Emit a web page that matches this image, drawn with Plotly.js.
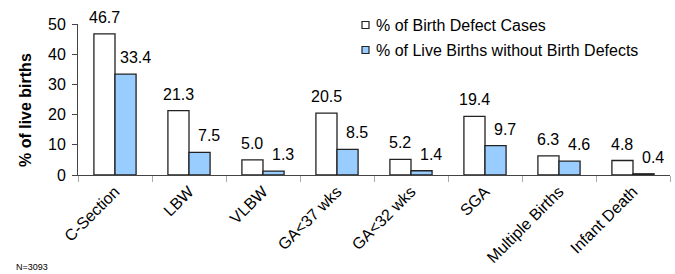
<!DOCTYPE html>
<html>
<head>
<meta charset="utf-8">
<script src="https://cdn.plot.ly/plotly-3.0.1.min.js"></script>
<style>html,body{margin:0;padding:0;background:#fff;}#chart{width:675px;height:274px;}</style>
</head>
<body>
<div id="chart"></div>
<script>
var categories = ["C-Section", "LBW", "VLBW", "GA<37 wks", "GA<32 wks", "SGA", "Multiple Births", "Infant Death"];
var defectCases = [46.7, 21.3, 5.0, 20.5, 5.2, 19.4, 6.3, 4.8];
var liveBirthsNoDefect = [33.4, 7.5, 1.3, 8.5, 1.4, 9.7, 4.6, 0.4];
var seriesNames = ["% of Birth Defect Cases", "% of Live Births without Birth Defects"];
var seriesColors = ["#FFFFFF", "#99CCFF"];
var yTitle = "% of live births";

var font = "Liberation Sans, Arial, sans-serif";
function mk(vals, name, color) {
  return {
    type: "bar", x: categories, y: vals, name: name, showlegend: false,
    marker: {color: color, line: {color: "#222", width: 1.3}},
    hoverinfo: "x+y"
  };
}
var data = [mk(defectCases, seriesNames[0], seriesColors[0]), mk(liveBirthsNoDefect, seriesNames[1], seriesColors[1])];

var plotL = 78, plotT = 24, plotW = 592, plotH = 151;
function px2x(p){ return (p - plotL) / plotW; }
function py2y(p){ return 1 - (p - plotT) / plotH; }
var shapes = [], annotations = [];

// value labels, anchored to each bar's value on the data axes
[defectCases, liveBirthsNoDefect].forEach(function(vals, s){
  vals.forEach(function(v, i){
    annotations.push({text: v.toFixed(1), xref: "x", yref: "y", x: categories[i], y: v,
      xanchor: "center", yanchor: "bottom", xshift: s === 0 ? -11 : 20, yshift: 6,
      showarrow: false, font: {family: font, size: 16, color: "#000"}});
  });
});

// custom legend (small squares + text)
seriesNames.forEach(function(n, i){
  var cy = 25 + i * 25;
  shapes.push({type: "rect", xref: "paper", yref: "paper",
    x0: px2x(362), x1: px2x(369), y0: py2y(cy + 3.5), y1: py2y(cy - 3.5),
    fillcolor: seriesColors[i], line: {color: "#222", width: 1.2}});
  annotations.push({text: n, xref: "paper", yref: "paper", x: px2x(374), y: py2y(cy),
    xanchor: "left", yanchor: "middle", showarrow: false,
    font: {family: font, size: 16, color: "#000"}});
});
// y-axis title
annotations.push({text: "<b>" + yTitle + "</b>", xref: "paper", yref: "paper", x: px2x(25), y: py2y(110),
  xanchor: "center", yanchor: "middle", textangle: -90, showarrow: false,
  font: {family: font, size: 16, color: "#000"}});
annotations.push({text: "N=3093", xref: "paper", yref: "paper", x: px2x(14), y: py2y(274),
  xanchor: "left", yanchor: "bottom", showarrow: false, font: {family: font, size: 9, color: "#000"}});

var layout = {
  width: 675, height: 274,
  margin: {l: 78, r: 5, t: 24, b: 99},
  paper_bgcolor: "#fff", plot_bgcolor: "#fff",
  barmode: "group", bargap: 0.43, bargroupgap: 0,
  font: {family: font, size: 16, color: "#000"},
  showlegend: false,
  xaxis: {showline: true, linecolor: "#444", linewidth: 1, ticks: "outside", tickson: "boundaries",
          ticklen: 6, tickcolor: "#aaa", tickangle: -45, tickfont: {family: font, size: 16},
          showgrid: false, zeroline: false},
  yaxis: {range: [0, 50], dtick: 10, showline: true, linecolor: "#444", linewidth: 1,
          ticks: "outside", ticklen: 5, tickcolor: "#444", showgrid: false, zeroline: false,
          tickfont: {family: font, size: 16}, ticklabelstandoff: 3},
  shapes: shapes,
  annotations: annotations
};
Plotly.newPlot("chart", data, layout, {displayModeBar: false});
</script>
</body>
</html>
